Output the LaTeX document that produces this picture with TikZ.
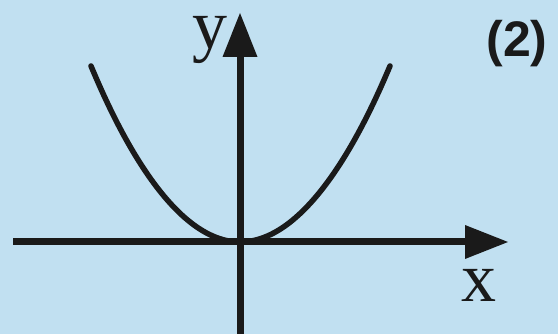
\documentclass[tikz,border=0pt]{standalone}
\usepackage{fontspec}
\setmainfont{Liberation Serif}
\newfontfamily\labelsans{Liberation Sans}
\definecolor{bgblue}{RGB}{193,224,241}
\definecolor{ink}{RGB}{26,26,26}
\tikzset{
  axisline/.style={draw=ink, line width=7pt},
  curveline/.style={draw=ink, line width=5.5pt, line cap=round},
  headfill/.style={fill=ink},
  axislabel/.style={anchor=base, inner sep=0pt, text=ink, text height=33pt, text depth=15pt, font=\fontsize{70}{70}\selectfont},
  numlabel/.style={anchor=base, inner sep=0pt, text=ink, font=\labelsans\bfseries\fontsize{50}{50}\selectfont}
}
\begin{document}
\begin{tikzpicture}[x=1pt,y=-1pt]
  \fill[bgblue] (0,0) rectangle (558,334);
  \useasboundingbox (0,0) rectangle (558,334);
  % coordinates
  \coordinate (xstart) at (13,242);
  \coordinate (xbase) at (466,242);
  \coordinate (xtip) at (508,242);
  \coordinate (ystart) at (240,334);
  \coordinate (ybase) at (240,56);
  \coordinate (ytip) at (240,13);
  \coordinate (left) at (91,66);
  \coordinate (vertex) at (240,242);
  \coordinate (right) at (390,66);
  % parabola
  \draw[curveline] (left) parabola bend (vertex) (right);
  % axes
  \draw[axisline] (xstart) -- (xbase);
  \draw[axisline] (ystart) -- (ybase);
  \fill[headfill] (xtip) -- (465,225) -- (465,259) -- cycle;
  \fill[headfill] (ytip) -- (222.5,57) -- (257.5,57) -- cycle;
  % labels
  \node[axislabel] (xl) at (479,302) {x};
  \node[axislabel] (yl) at (210,49) {y};
  \node[numlabel] (num) at (517,57) {(2)};
\end{tikzpicture}
\end{document}
